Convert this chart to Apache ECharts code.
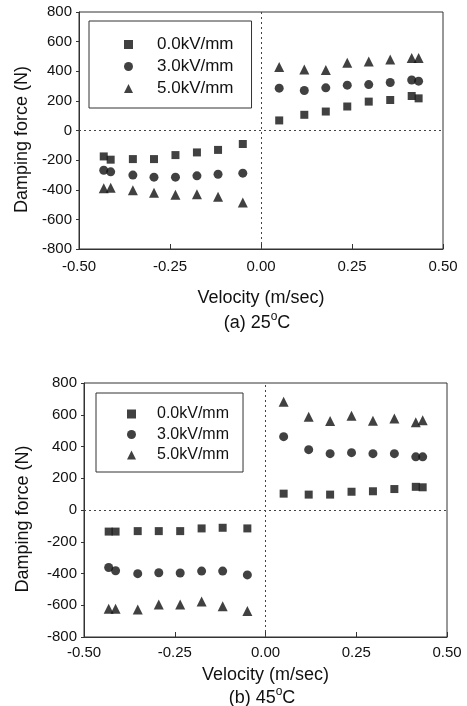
<!DOCTYPE html>
<html lang="en">

<head>
  <meta charset="UTF-8">
  <title>Damping force vs velocity</title>
  <script src="https://cdn.jsdelivr.net/npm/echarts@6/dist/echarts.min.js"></script>
  <style>
    * {
      margin: 0;
      padding: 0;
      box-sizing: border-box;
    }

    body {
      background: #fff;
    }

    #chart {
      width: 467px;
      height: 706px;
    }
  </style>
</head>

<body>
  <div id="chart"></div>

  <script>
    // velocity (m/sec), same test points for every field strength
    const velocity = [-0.432, -0.413, -0.352, -0.294, -0.235, -0.176, -0.118, -0.050,
      0.050, 0.119, 0.178, 0.237, 0.296, 0.355, 0.414, 0.433];

    const seriesNames = ['0.0kV/mm', '3.0kV/mm', '5.0kV/mm'];

    // (a) 25°C damping force (N)
    const forceA_0 = [-175, -197, -193, -193, -166, -148, -131, -91, 68, 106, 128, 162, 195, 206, 233, 217];
    const forceA_3 = [-268, -279, -301, -315, -315, -306, -295, -288, 286, 270, 288, 306, 310, 324, 341, 333];
    const forceA_5 = [-390, -386, -404, -421, -434, -430, -448, -486, 428, 412, 408, 457, 466, 479, 490, 490];

    // (b) 45°C damping force (N)
    const forceB_0 = [-136, -136, -133, -133, -133, -116, -112, -116, 103, 97, 97, 115, 118, 132, 146, 143];
    const forceB_3 = [-362, -383, -401, -395, -397, -385, -385, -409, 462, 380, 355, 361, 355, 355, 335, 335];
    const forceB_5 = [-622, -622, -626, -595, -595, -577, -606, -637, 682, 587, 560, 593, 562, 577, 552, 566];

    const xTicks = [-0.5, -0.25, 0, 0.25, 0.5];
    const yTicks = [-800, -600, -400, -200, 0, 200, 400, 600, 800];

    const font = 'Liberation Sans, Arial, sans-serif';
    const ink = '#111';
    const frame = '#333';

    const symbols = ['rect', 'circle', 'triangle'];
    const symbolSizes = [8, 9, 10];

    function pairs(ys) {
      return velocity.map((v, i) => [v, ys[i]]);
    }

    function xAxisFor(idx, labelMargin, nameGap) {
      return {
        gridIndex: idx,
        type: 'value',
        min: xTicks[0],
        max: xTicks[xTicks.length - 1],
        interval: 0.25,
        name: 'Velocity (m/sec)',
        nameLocation: 'middle',
        nameGap: nameGap,
        nameTextStyle: { fontFamily: font, fontSize: 18, color: ink },
        axisLine: { show: true, onZero: false, lineStyle: { color: frame, width: 1 } },
        axisTick: { show: true, inside: true, length: 5, lineStyle: { color: frame } },
        axisLabel: {
          fontFamily: font, fontSize: 15, color: ink, margin: labelMargin,
          formatter: v => v.toFixed(2)
        },
        splitLine: { show: false }
      };
    }

    function yAxisFor(idx, nameGap) {
      return {
        gridIndex: idx,
        type: 'value',
        min: yTicks[0],
        max: yTicks[yTicks.length - 1],
        interval: 200,
        name: 'Damping force (N)',
        nameLocation: 'middle',
        nameGap: nameGap,
        // push the rotated title a little below the grid centre
        nameTextStyle: { fontFamily: font, fontSize: 18, color: ink, padding: [0, 18, 0, 0] },
        axisLine: { show: true, onZero: false, lineStyle: { color: frame, width: 1 } },
        axisTick: { show: true, inside: false, length: 3, lineStyle: { color: frame } },
        axisLabel: { fontFamily: font, fontSize: 15, color: ink, margin: 7 },
        splitLine: { show: false }
      };
    }

    function scatter(name, k, idx, ys) {
      const s = {
        name: name,
        type: 'scatter',
        xAxisIndex: idx,
        yAxisIndex: idx,
        symbol: symbols[k],
        symbolSize: symbolSizes[k],
        itemStyle: { color: ink },
        data: pairs(ys)
      };
      if (k === 0) {
        // dotted zero lines
        s.markLine = {
          silent: true,
          symbol: ['none', 'none'],
          label: { show: false },
          lineStyle: { type: [2, 3], color: '#444', width: 1 },
          data: [{ xAxis: 0 }, { yAxis: 0 }]
        };
      }
      return s;
    }

    function legendFor(left, top, fontSize, pad, gap, textPad) {
      return {
        orient: 'vertical',
        left: left,
        top: top,
        data: seriesNames,
        selectedMode: false,
        borderColor: frame,
        borderWidth: 1,
        padding: pad,
        itemGap: gap,
        itemWidth: 9,
        itemHeight: 9,
        textStyle: {
          fontFamily: font, fontSize: fontSize, color: ink,
          padding: [0, 0, 0, textPad]
        }
      };
    }

    const captionStyle = {
      fontFamily: font, fontSize: 18, fontWeight: 'normal', color: ink, lineHeight: 24,
      rich: {
        o: { fontFamily: font, fontSize: 12, color: ink, verticalAlign: 'top', lineHeight: 10 }
      }
    };

    const myChart = echarts.init(document.getElementById('chart'));

    const option = {
      animation: false,
      backgroundColor: '#fff',
      title: [
        { text: '(a) 25{o|o}C', left: 257, top: 311, padding: 0, textAlign: 'center', textStyle: captionStyle },
        { text: '(b) 45{o|o}C', left: 262, top: 686, padding: 0, textAlign: 'center', textStyle: captionStyle }
      ],
      grid: [
        { left: 79, top: 12, width: 364, height: 237, show: true, borderColor: frame, borderWidth: 1 },
        { left: 84, top: 383, width: 363, height: 254, show: true, borderColor: frame, borderWidth: 1 }
      ],
      legend: [
        legendFor(89, 21, 17, [15, 18, 11, 35], 5, 19),
        legendFor(96, 393, 16, [13, 14, 9, 31], 4.5, 16)
      ],
      xAxis: [xAxisFor(0, 10, 40), xAxisFor(1, 8, 29)],
      yAxis: [yAxisFor(0, 46), yAxisFor(1, 52)],
      series: [
        scatter(seriesNames[0], 0, 0, forceA_0),
        scatter(seriesNames[1], 1, 0, forceA_3),
        scatter(seriesNames[2], 2, 0, forceA_5),
        scatter(seriesNames[0], 0, 1, forceB_0),
        scatter(seriesNames[1], 1, 1, forceB_3),
        scatter(seriesNames[2], 2, 1, forceB_5)
      ]
    };

    myChart.setOption(option);
  </script>
</body>

</html>
